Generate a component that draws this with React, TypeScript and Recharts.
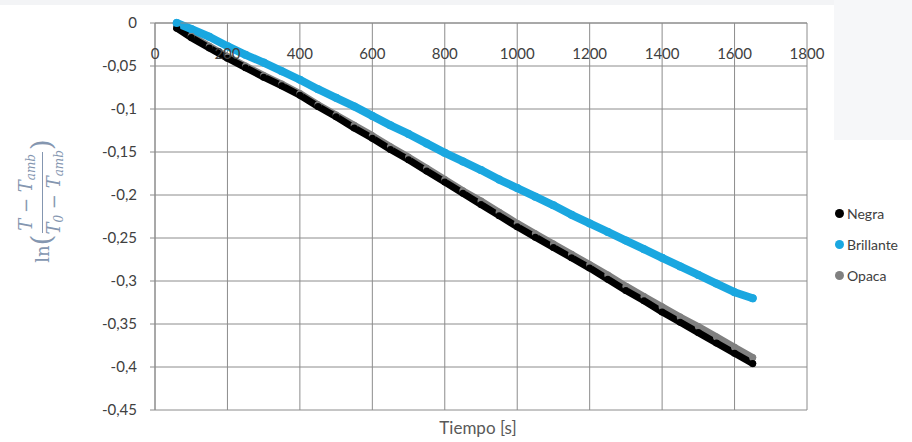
import { LineChart, Line, XAxis, YAxis, CartesianGrid } from "recharts";

const tiempo = [
  60, 100, 150, 200, 250, 300, 350, 400, 450, 500, 550, 600, 650, 700, 750, 800, 850,
  900, 950, 1000, 1050, 1100, 1150, 1200, 1250, 1300, 1350, 1400, 1450, 1500, 1550,
  1600, 1650,
];
const negra = [
  -0.006, -0.017, -0.029, -0.041, -0.052, -0.063, -0.073, -0.084, -0.097, -0.109,
  -0.122, -0.134, -0.147, -0.159, -0.172, -0.185, -0.198, -0.211, -0.224, -0.237,
  -0.249, -0.261, -0.273, -0.285, -0.298, -0.311, -0.323, -0.336, -0.348, -0.36,
  -0.372, -0.384, -0.396,
];
const brillante = [
  0, -0.007, -0.016, -0.027, -0.037, -0.046, -0.056, -0.066, -0.077, -0.087, -0.097,
  -0.108, -0.119, -0.129, -0.14, -0.151, -0.161, -0.171, -0.182, -0.192, -0.202,
  -0.212, -0.223, -0.233, -0.243, -0.253, -0.263, -0.273, -0.283, -0.293, -0.303,
  -0.313, -0.32,
];
const opaca = [
  -0.004, -0.015, -0.027, -0.039, -0.05, -0.061, -0.071, -0.082, -0.095, -0.107,
  -0.119, -0.131, -0.144, -0.156, -0.169, -0.182, -0.195, -0.207, -0.22, -0.233,
  -0.245, -0.257, -0.269, -0.281, -0.293, -0.306, -0.318, -0.33, -0.342, -0.353,
  -0.365, -0.377, -0.389,
];
const xTicks = [0, 200, 400, 600, 800, 1000, 1200, 1400, 1600, 1800];
const yTicks = [0, -0.05, -0.1, -0.15, -0.2, -0.25, -0.3, -0.35, -0.4, -0.45];

const series = [
  { key: "opaca", name: "Opaca", color: "#808080", width: 7 },
  { key: "negra", name: "Negra", color: "#000000", width: 7 },
  { key: "brillante", name: "Brillante", color: "#1aa7e0", width: 8 },
];
const legendOrder = ["negra", "brillante", "opaca"];

const data = tiempo.map((t, i) => ({
  t,
  negra: negra[i],
  brillante: brillante[i],
  opaca: opaca[i],
}));

const FONT = "Lato, 'Noto Sans', sans-serif";
const GRID = "#8c8c8c";

const fmt = (v: number) => String(v).replace(".", ",");

function TopTick({ x, y, payload }: any) {
  return (
    <text x={x} y={y + 38} textAnchor="middle" fontSize={15} fill="#404040" fontFamily={FONT}>
      {payload.value}
    </text>
  );
}

function LegendBox() {
  return (
    <div
      style={{
        position: "absolute",
        left: 835,
        top: 198,
        fontFamily: FONT,
        fontSize: 14,
        color: "#404040",
      }}
    >
      {legendOrder.map((k) => {
        const s = series.find((q) => q.key === k)!;
        return (
          <div key={k} style={{ display: "flex", alignItems: "center", height: 31 }}>
            <span
              style={{
                width: 9,
                height: 9,
                borderRadius: "50%",
                background: s.color,
                marginRight: 3,
              }}
            />
            {s.name}
          </div>
        );
      })}
    </div>
  );
}

function YTitle() {
  const sub = { fontSize: 12, verticalAlign: "-3px" } as const;
  return (
    <div
      style={{
        position: "absolute",
        left: -28,
        top: 176,
        width: 140,
        height: 50,
        transform: "rotate(-90deg)",
        display: "flex",
        alignItems: "center",
        justifyContent: "center",
        fontFamily: "'DejaVu Serif', 'Liberation Serif', serif",
        fontStyle: "italic",
        fontSize: 18,
        color: "#8496b0",
        whiteSpace: "nowrap",
      }}
    >
      <span style={{ fontStyle: "normal" }}>ln</span>
      <span style={{ fontStyle: "normal", fontSize: 28, fontWeight: 300, lineHeight: 1 }}>(</span>
      <span style={{ display: "inline-flex", flexDirection: "column", alignItems: "center" }}>
        <span style={{ borderBottom: "1px solid #8496b0", padding: "0 2px", lineHeight: "21px" }}>
          T − T<span style={sub}>amb</span>
        </span>
        <span style={{ lineHeight: "21px" }}>
          T<span style={sub}>0</span> − T<span style={sub}>amb</span>
        </span>
      </span>
      <span style={{ fontStyle: "normal", fontSize: 28, fontWeight: 300, lineHeight: 1 }}>)</span>
    </div>
  );
}

export default function App() {
  return (
    <div
      style={{
        position: "absolute",
        left: 0,
        top: 0,
        width: 912,
        height: 442,
        background: "#ffffff",
        overflow: "hidden",
      }}
    >
      <div style={{ position: "absolute", left: 0, top: 0, width: 912, height: 5, background: "#f3f4f6" }} />
      <div style={{ position: "absolute", left: 834, top: 0, width: 78, height: 140, background: "#f6f7f9" }} />
      <LineChart
        width={912}
        height={442}
        data={data}
        margin={{ top: 0, right: 105, bottom: 32, left: 0 }}
        style={{ position: "absolute", left: 0, top: 0 }}
      >
        <CartesianGrid stroke={GRID} strokeWidth={1} />
        <XAxis
          dataKey="t"
          type="number"
          orientation="top"
          domain={[0, 1800]}
          ticks={xTicks}
          height={23}
          tick={<TopTick />}
          tickLine={false}
          tickSize={0}
          axisLine={{ stroke: GRID }}
        />
        <YAxis
          type="number"
          domain={[-0.45, 0]}
          ticks={yTicks}
          width={155}
          tickFormatter={fmt}
          tick={{ fontSize: 15, fill: "#404040", fontFamily: FONT }}
          tickLine={{ stroke: GRID }}
          tickSize={5}
          tickMargin={13}
          axisLine={{ stroke: GRID }}
        />
        {series.map((s) => (
          <Line
            key={s.key}
            dataKey={s.key}
            name={s.name}
            type="linear"
            stroke={s.color}
            strokeWidth={s.width}
            strokeLinecap="round"
            strokeLinejoin="round"
            dot={{ r: s.width / 2, fill: s.color, stroke: "none" }}
            isAnimationActive={false}
          />
        ))}
      </LineChart>
      <LegendBox />
      <div
        style={{
          position: "absolute",
          left: 378,
          width: 200,
          top: 417,
          textAlign: "center",
          fontFamily: FONT,
          fontSize: 17,
          color: "#595959",
        }}
      >
        Tiempo [s]
      </div>
      <YTitle />
    </div>
  );
}
